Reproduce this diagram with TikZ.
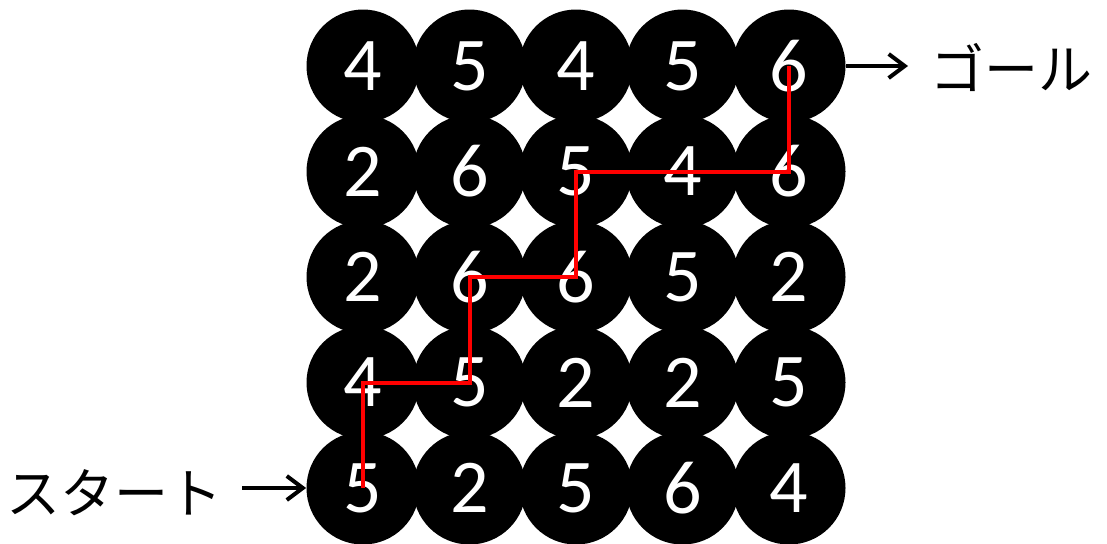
\documentclass[tikz,border=0pt]{standalone}
\usepackage{fontspec}
\setmainfont{Carlito}
\newfontfamily\jpfont{Noto Sans CJK JP}
\usetikzlibrary{arrows.meta}

\begin{document}
\begin{tikzpicture}[
      x=0.5pt, y=-0.5pt,
      cell/.style={circle, fill=black, text=white, minimum size=56.5pt, inner sep=0pt, font=\fontsize{38}{38}\selectfont},
      tag/.style={font=\jpfont\fontsize{27}{27}\selectfont, inner sep=0pt},
      pointer/.style={line width=2pt, -{Straight Barb[length=8pt, width=12pt]}},
      route/.style={red, line width=2pt},
    ]
      \useasboundingbox (0,0) rectangle (1107,543);

      \node[cell] (n11) at (363, 66) {4};
      \node[cell] (n12) at (469.5, 66) {5};
      \node[cell] (n13) at (576, 66) {4};
      \node[cell] (n14) at (682.5, 66) {5};
      \node[cell] (n15) at (789, 66) {6};

      \node[cell] (n21) at (363, 171.5) {2};
      \node[cell] (n22) at (469.5, 171.5) {6};
      \node[cell] (n23) at (576, 171.5) {5};
      \node[cell] (n24) at (682.5, 171.5) {4};
      \node[cell] (n25) at (789, 171.5) {6};

      \node[cell] (n31) at (363, 277) {2};
      \node[cell] (n32) at (469.5, 277) {6};
      \node[cell] (n33) at (576, 277) {6};
      \node[cell] (n34) at (682.5, 277) {5};
      \node[cell] (n35) at (789, 277) {2};

      \node[cell] (n41) at (363, 382.5) {4};
      \node[cell] (n42) at (469.5, 382.5) {5};
      \node[cell] (n43) at (576, 382.5) {2};
      \node[cell] (n44) at (682.5, 382.5) {2};
      \node[cell] (n45) at (789, 382.5) {5};

      \node[cell] (n51) at (363, 488) {5};
      \node[cell] (n52) at (469.5, 488) {2};
      \node[cell] (n53) at (576, 488) {5};
      \node[cell] (n54) at (682.5, 488) {6};
      \node[cell] (n55) at (789, 488) {4};

      \node[tag] (start) at (114, 493) {スタート};
      \node[tag, anchor=west] (goal) at (930, 67) {ゴール};

      \draw[pointer, shorten <=10pt] (start.east |- n51.west) -- (n51.west);
      \draw[pointer, shorten >=11pt] (n15.east) -- (goal.west |- n15.east);

      \draw[route] (n51.center) -- (n41.center) -- (n42.center) -- (n32.center)
        -- (n33.center) -- (n23.center) -- (n25.center) -- (n15.center);
    \end{tikzpicture}
\end{document}
